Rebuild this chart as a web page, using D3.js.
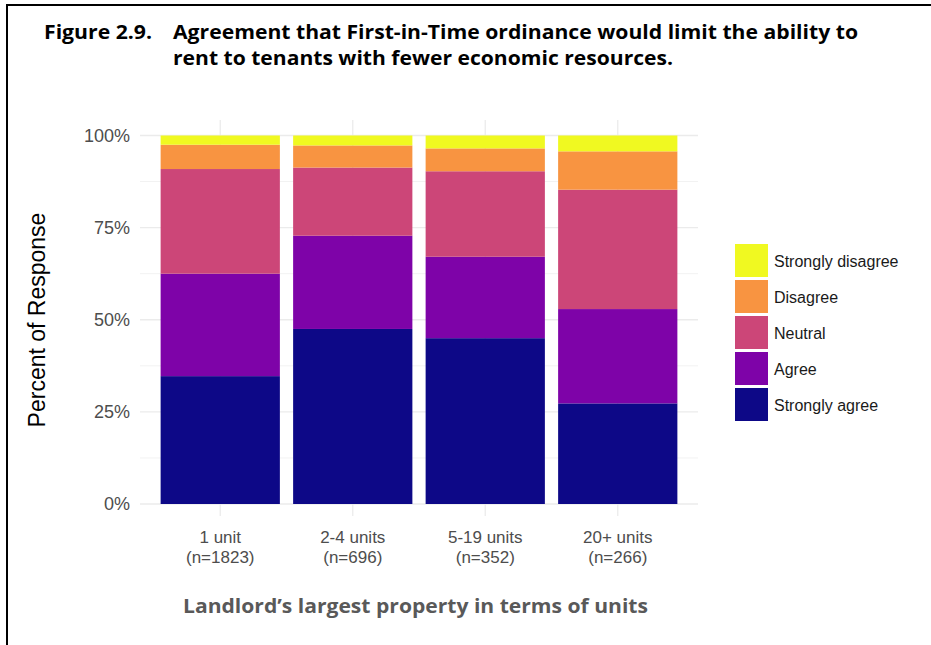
<!DOCTYPE html>
<html>
<head>
<meta charset="utf-8">
<script src="https://cdn.jsdelivr.net/npm/d3@7"></script>
<style>
  html, body { margin: 0; padding: 0; background: #fff; }
  svg { display: block; }
</style>
</head>
<body>
<svg id="chart" width="931" height="645"></svg>
<script>
const categories = ["1 unit", "2-4 units", "5-19 units", "20+ units"];
const categoryCounts = ["(n=1823)", "(n=696)", "(n=352)", "(n=266)"];
const responses = ["Strongly agree", "Agree", "Neutral", "Disagree", "Strongly disagree"];
const stronglyAgree = [34.7, 47.5, 45.0, 27.3];
const agree = [27.8, 25.3, 22.1, 25.6];
const neutral = [28.4, 18.5, 23.2, 32.4];
const disagree = [6.6, 6.0, 6.2, 10.4];
const stronglyDisagree = [2.5, 2.7, 3.5, 4.3];
const yTicks = [0, 25, 50, 75, 100];
const yMinor = [12.5, 37.5, 62.5, 87.5];
const colors = ["#0D0887", "#7E03A8", "#CC4678", "#F89441", "#F0F921"];

const seriesValues = [stronglyAgree, agree, neutral, disagree, stronglyDisagree];
const table = categories.map((c, i) => {
  const row = { cat: c };
  responses.forEach((r, j) => { row[r] = seriesValues[j][i]; });
  return row;
});

const svg = d3.select("#chart");

// frame
svg.append("line").attr("x1", 7).attr("x2", 931).attr("y1", 5).attr("y2", 5)
  .attr("stroke", "#000").attr("stroke-width", 2);
svg.append("line").attr("x1", 7).attr("x2", 7).attr("y1", 4).attr("y2", 645)
  .attr("stroke", "#000").attr("stroke-width", 2);

// title
const titleFont = "'Open Sans', 'Noto Sans', sans-serif";
svg.append("text").attr("x", 44).attr("y", 39)
  .attr("font-family", titleFont).attr("font-weight", 700).attr("font-size", 19.5)
  .attr("textLength", 108).attr("lengthAdjust", "spacingAndGlyphs")
  .attr("fill", "#000").text("Figure 2.9.");
svg.append("text").attr("x", 173).attr("y", 39)
  .attr("font-family", titleFont).attr("font-weight", 700).attr("font-size", 19.5)
  .attr("textLength", 685).attr("lengthAdjust", "spacingAndGlyphs")
  .attr("fill", "#000").text("Agreement that First-in-Time ordinance would limit the ability to");
svg.append("text").attr("x", 173).attr("y", 65)
  .attr("font-family", titleFont).attr("font-weight", 700).attr("font-size", 19.5)
  .attr("textLength", 500).attr("lengthAdjust", "spacingAndGlyphs")
  .attr("fill", "#000").text("rent to tenants with fewer economic resources.");

// scales
const plotLeft = 140, plotRight = 698;
const x = d3.scaleBand().domain(categories).range([154, 684]).paddingInner(0.1).paddingOuter(0.05);
const y = d3.scaleLinear().domain([0, 100]).range([504, 135.5]);

// grid
const g = svg.append("g");
g.selectAll(".minor").data(yMinor).enter().append("line")
  .attr("x1", plotLeft).attr("x2", plotRight)
  .attr("y1", d => y(d)).attr("y2", d => y(d))
  .attr("stroke", "#f2f2f2").attr("stroke-width", 1);
g.selectAll(".major").data(yTicks).enter().append("line")
  .attr("x1", plotLeft).attr("x2", plotRight)
  .attr("y1", d => y(d)).attr("y2", d => y(d))
  .attr("stroke", "#ebebeb").attr("stroke-width", 1.3);
g.selectAll(".vgrid").data(categories).enter().append("line")
  .attr("x1", d => x(d) + x.bandwidth() / 2).attr("x2", d => x(d) + x.bandwidth() / 2)
  .attr("y1", 120).attr("y2", 516)
  .attr("stroke", "#ebebeb").attr("stroke-width", 1.3);

// stacked bars
const stack = d3.stack().keys(responses);
const layers = stack(table);
svg.append("g").selectAll("g").data(layers).enter().append("g")
  .attr("fill", (d, i) => colors[i])
  .selectAll("rect").data(d => d).enter().append("rect")
  .attr("x", d => x(d.data.cat))
  .attr("width", x.bandwidth())
  .attr("y", d => y(d[1]))
  .attr("height", d => y(d[0]) - y(d[1]));

// y axis labels
const axisFont = "'Liberation Sans', Arial, sans-serif";
const yAxis = d3.axisLeft(y).tickValues(yTicks).tickFormat(d => d + "%").tickSize(0).tickPadding(0);
const ya = svg.append("g").attr("transform", "translate(130,0)").call(yAxis);
ya.select(".domain").remove();
ya.selectAll("text").attr("font-family", axisFont).attr("font-size", 18).attr("fill", "#4d4d4d");

// x axis labels (two separate text lines per tick)
const xAxis = d3.axisBottom(x).tickSize(0).tickFormat(() => "");
const xa = svg.append("g").attr("transform", "translate(0,516)").call(xAxis);
xa.select(".domain").remove();
xa.selectAll(".tick text").remove();
xa.selectAll(".tick").each(function(d, i) {
  const tk = d3.select(this);
  tk.append("text").attr("text-anchor", "middle").attr("y", 26.5)
    .attr("font-family", axisFont).attr("font-size", 17).attr("fill", "#4d4d4d")
    .text(d);
  tk.append("text").attr("text-anchor", "middle").attr("y", 46.5)
    .attr("font-family", axisFont).attr("font-size", 17).attr("fill", "#4d4d4d")
    .text(categoryCounts[i]);
});

// axis titles
svg.append("text")
  .attr("transform", "translate(45,320) rotate(-90)")
  .attr("text-anchor", "middle")
  .attr("font-family", axisFont).attr("font-size", 23).attr("fill", "#000")
  .text("Percent of Response");
svg.append("text").attr("x", 183).attr("y", 613)
  .attr("font-family", titleFont).attr("font-weight", 700).attr("font-size", 19.5)
  .attr("textLength", 465).attr("lengthAdjust", "spacingAndGlyphs")
  .attr("fill", "#595959").text("Landlord\u2019s largest property in terms of units");

// legend
const legendOrder = responses.slice().reverse();
const legendColors = colors.slice().reverse();
const lg = svg.append("g").attr("transform", "translate(735,244)");
const item = lg.selectAll("g").data(legendOrder).enter().append("g")
  .attr("transform", (d, i) => `translate(0,${i * 36})`);
item.append("rect").attr("width", 33).attr("height", 33)
  .attr("fill", (d, i) => legendColors[i]);
item.append("text").attr("x", 39).attr("y", 17).attr("dy", "0.35em")
  .attr("font-family", axisFont).attr("font-size", 16).attr("fill", "#1a1a1a")
  .text(d => d);
</script>
</body>
</html>
